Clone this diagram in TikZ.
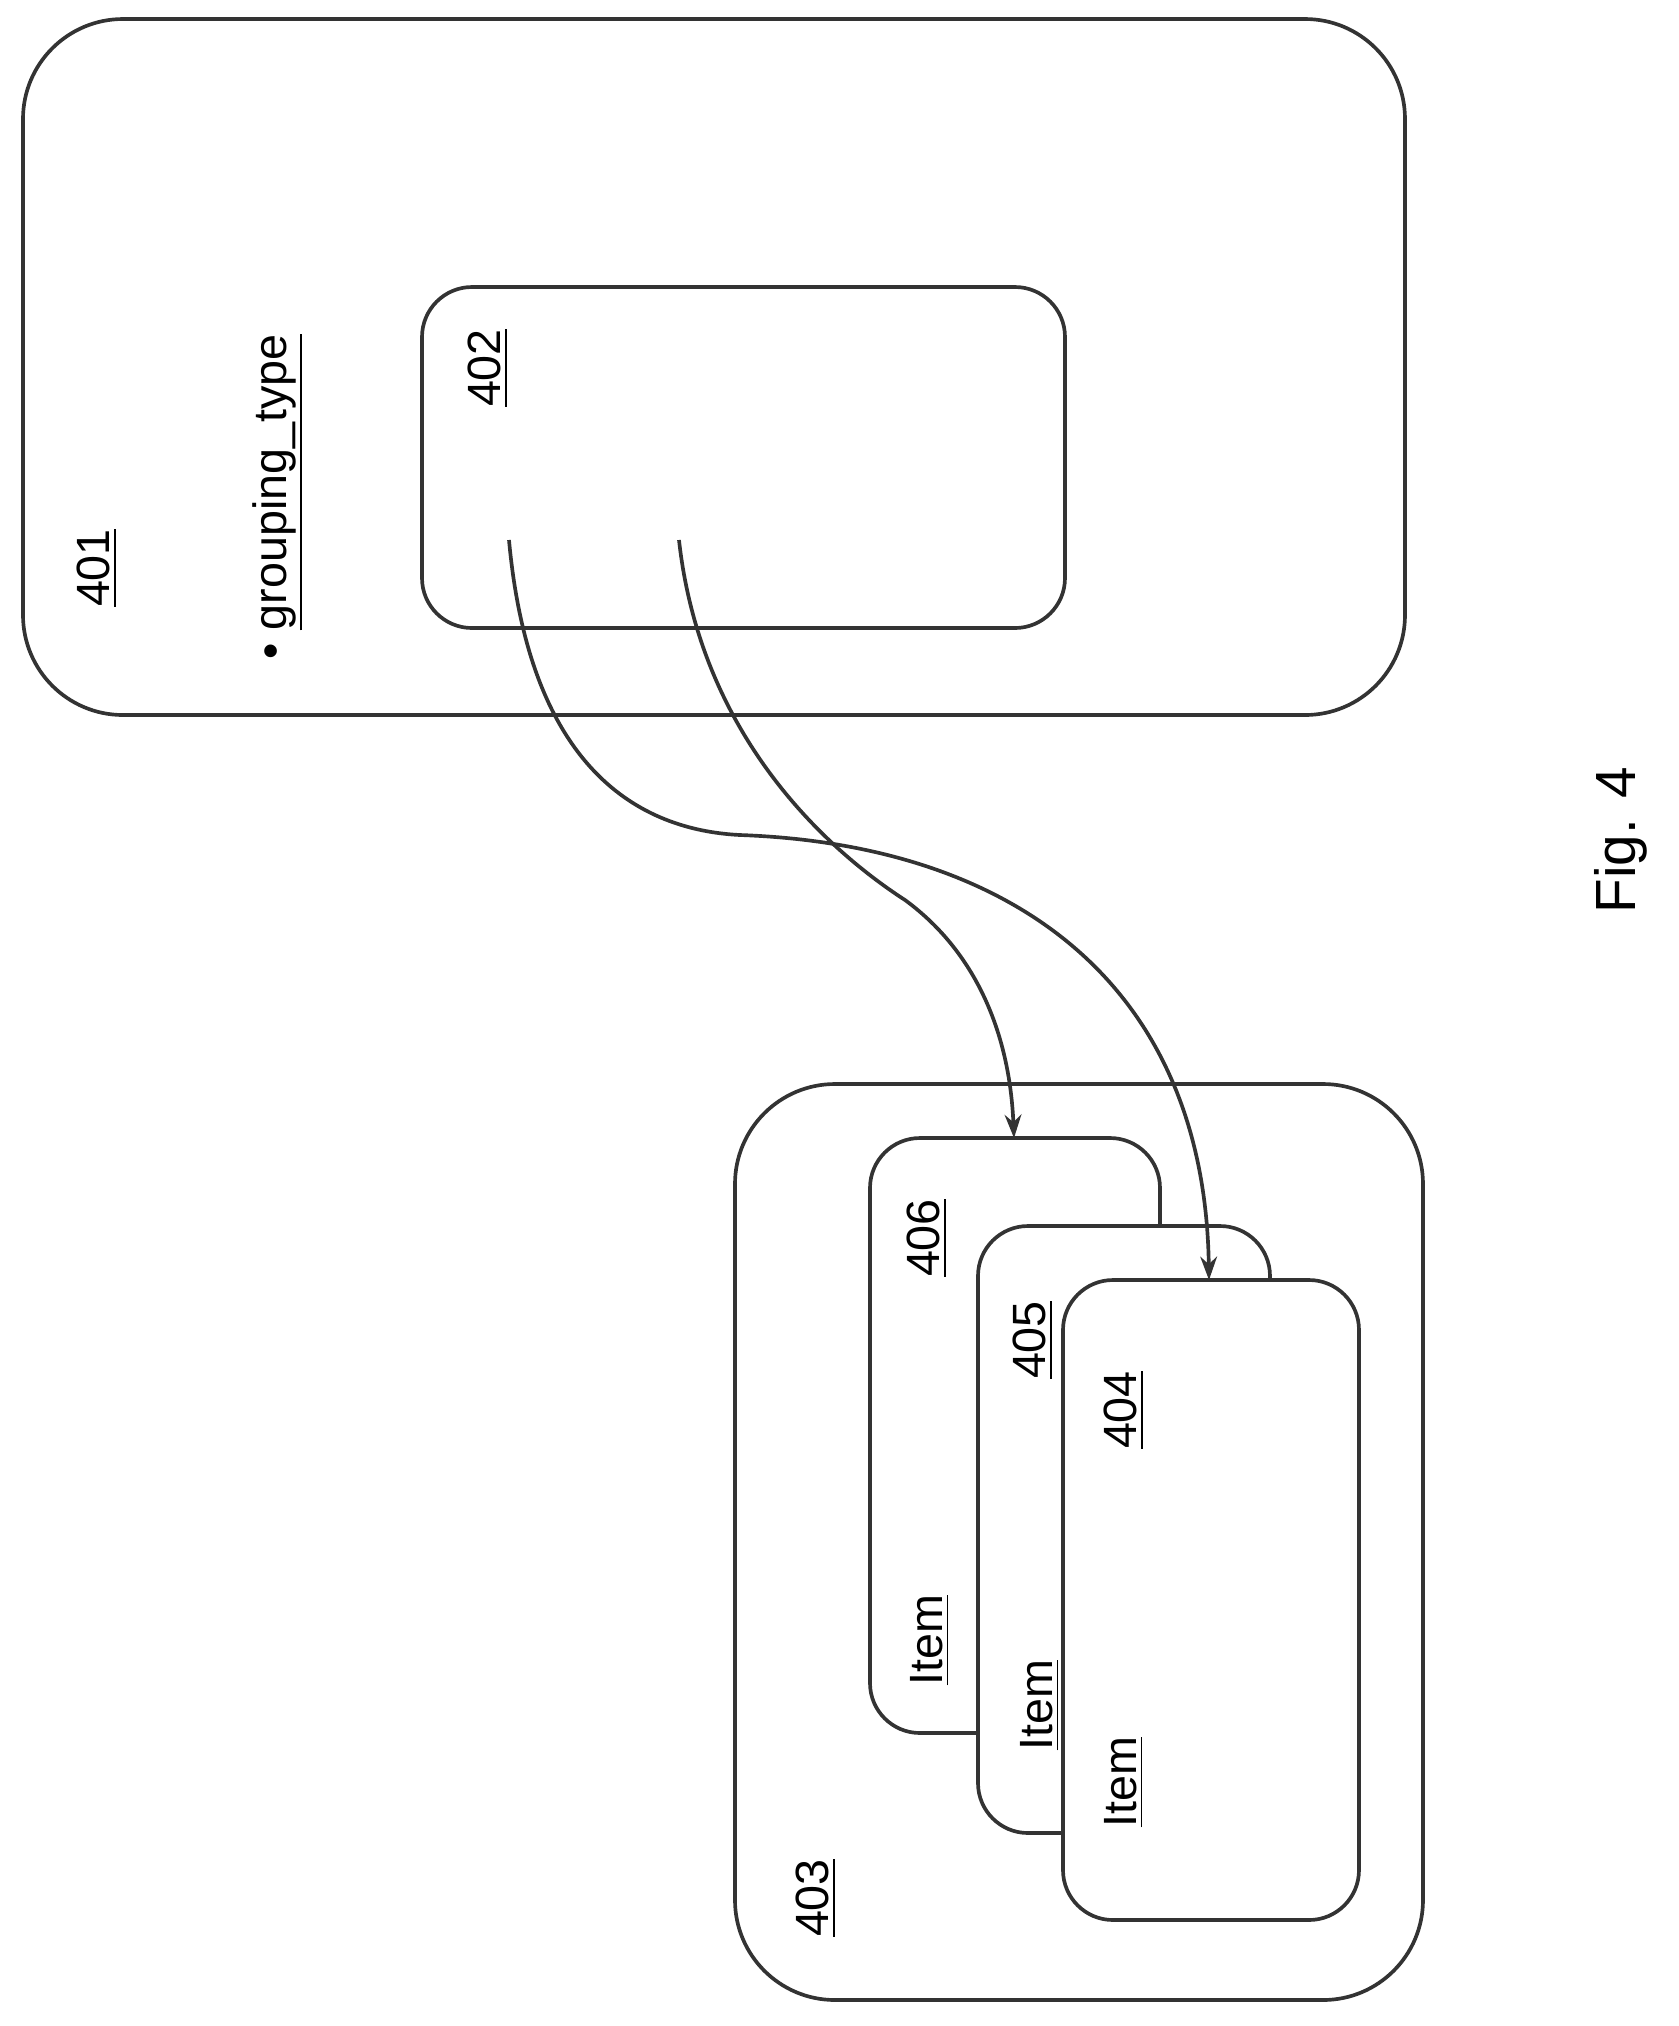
\documentclass[tikz,border=0pt]{standalone}
\usepackage{fontspec}
\setmainfont{Liberation Sans}
\usetikzlibrary{arrows.meta}
\tikzset{
  line/.style={draw=black!80, line width=1.1pt},
  frame/.style={line, rounded corners=30pt, fill=white},
  card/.style={line, rounded corners=15pt, fill=white},
  lbl/.style={rotate=90, font=\fontsize{14}{16}\selectfont},
  link/.style={line, -{Stealth[length=7pt,width=5pt]}}
}
\newcommand{\ul}[1]{\underline{#1}}

\begin{document}
\begin{tikzpicture}[x=0.3pt, y=-0.3pt]
\useasboundingbox (0,0) rectangle (1679,2026);

% outer boxes
\draw[frame] (23,19) rectangle (1405,715);
\draw[card] (422,287) rectangle (1065,628);
\draw[frame] (735,1084) rectangle (1423,2000);

% stacked items
\draw[card] (870,1138) rectangle (1160,1733);
\draw[card] (978,1226) rectangle (1270,1833);
\draw[card] (1063,1280) rectangle (1359,1920);

% labels
\node[lbl] (l401) at (97,568) {\ul{401}};
\node[lbl] (grp) at (278,497) {\textbullet\ \ul{grouping\_type}};
\node[lbl] (l402) at (488,368) {\ul{402}};
\node[lbl] (l403) at (816,1898) {\ul{403}};
\node[lbl] (l406) at (927,1238) {\ul{406}};
\node[lbl] (l405) at (1033,1340) {\ul{405}};
\node[lbl] (l404) at (1124,1410) {\ul{404}};
\node[lbl] (i406) at (930,1640) {\ul{Item}};
\node[lbl] (i405) at (1040,1705) {\ul{Item}};
\node[lbl] (i404) at (1124,1782) {\ul{Item}};
\node[lbl, font=\fontsize{17}{20}\selectfont] (fig) at (1621,840) {Fig. 4};

% references
\coordinate (s1) at (509,540);
\coordinate (s2) at (679,540);
\coordinate (t404) at (1209,1280);
\coordinate (t406) at (1014,1138);
\draw[link] (s1) .. controls (530,770) and (640,830) .. (740,835)
  .. controls (1020,845) and (1205,990) .. (t404);
\draw[link] (s2) .. controls (700,730) and (820,845) .. (905,900)
  .. controls (980,955) and (1010,1040) .. (t406);
\end{tikzpicture}
\end{document}
